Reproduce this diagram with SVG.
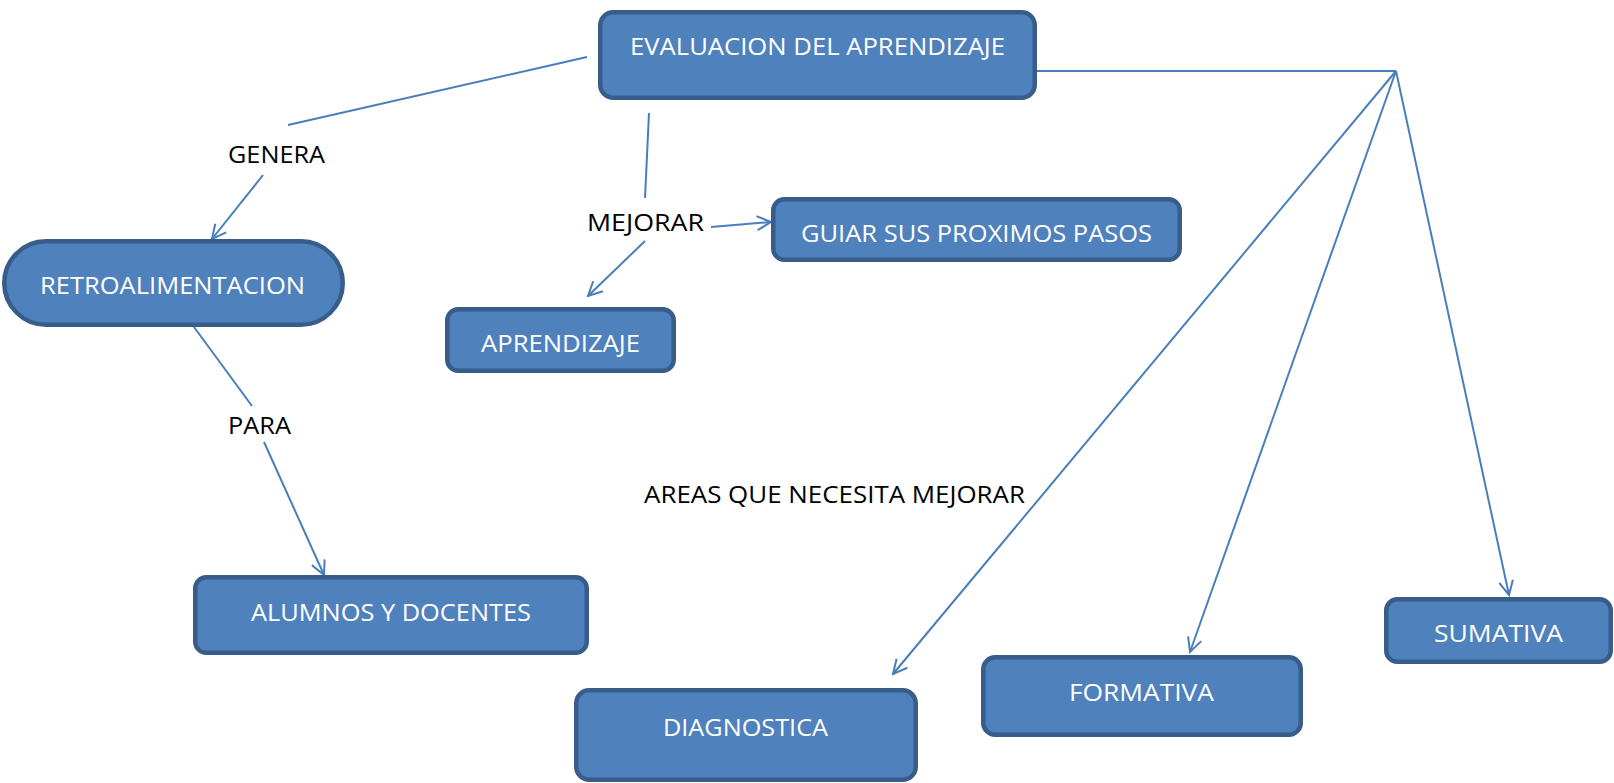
<svg xmlns="http://www.w3.org/2000/svg" width="1614" height="783" viewBox="0 0 1614 783">
<style>
.box{fill:#4F81BD;stroke:#385D8A;stroke-width:4.5}
.bt{fill:#FFFFFF;font-family:"Open Sans","Noto Sans",sans-serif;font-size:24px}
.lb{fill:#000000;font-family:"Open Sans","Noto Sans",sans-serif;font-size:23.5px}
.c{stroke:#4A7EBB;stroke-width:2;fill:none}
.a{marker-end:url(#ah)}
</style>
<defs>
<marker id="ah" viewBox="-16 -9 18 18" refX="0" refY="0" markerWidth="18" markerHeight="18" markerUnits="userSpaceOnUse" orient="auto">
<path d="M-14,-7 L0,0 L-14,7" fill="none" stroke="#4A7EBB" stroke-width="2"/>
</marker>
</defs>
<rect width="1614" height="783" fill="#FFFFFF"/>
<g id="connectors">
<line class="c" x1="587" y1="57" x2="288" y2="125"/>
<line class="c a" x1="263" y1="175" x2="212" y2="239"/>
<line class="c" x1="194" y1="327" x2="252" y2="406"/>
<line class="c a" x1="264" y1="442" x2="324" y2="575"/>
<line class="c" x1="649" y1="113" x2="645" y2="198"/>
<line class="c a" x1="711" y1="227" x2="771" y2="222"/>
<line class="c a" x1="645" y1="241" x2="588" y2="296"/>
<line class="c" x1="1037" y1="71" x2="1396" y2="71"/>
<line class="c a" x1="1396" y1="71" x2="893" y2="674"/>
<line class="c a" x1="1396" y1="71" x2="1190" y2="652"/>
<line class="c a" x1="1396" y1="71" x2="1509" y2="595"/>
</g>
<g id="labels">
<text class="lb" x="228" y="163" textLength="97" lengthAdjust="spacingAndGlyphs">GENERA</text>
<text class="lb" x="228" y="434" textLength="63" lengthAdjust="spacingAndGlyphs">PARA</text>
<text class="lb" x="587" y="231" textLength="117" lengthAdjust="spacingAndGlyphs">MEJORAR</text>
<text class="lb" x="644" y="503" textLength="381" lengthAdjust="spacingAndGlyphs">AREAS QUE NECESITA MEJORAR</text>
</g>
<g id="evaluacion">
<rect class="box" x="600.25" y="12.25" width="434.5" height="85.5" rx="13"/>
<text class="bt" x="630" y="55" textLength="375" lengthAdjust="spacingAndGlyphs">EVALUACION DEL APRENDIZAJE</text>
</g>
<g id="retroalimentacion">
<rect class="box" x="4.25" y="241.25" width="338.5" height="83.5" rx="41.75"/>
<text class="bt" x="40" y="294" textLength="265" lengthAdjust="spacingAndGlyphs">RETROALIMENTACION</text>
</g>
<g id="alumnos">
<rect class="box" x="195.25" y="577.25" width="391.5" height="75.5" rx="11"/>
<text class="bt" x="251" y="621" textLength="280" lengthAdjust="spacingAndGlyphs">ALUMNOS Y DOCENTES</text>
</g>
<g id="guiar">
<rect class="box" x="773.25" y="199.25" width="406.5" height="60.5" rx="11"/>
<text class="bt" x="801" y="242" textLength="351" lengthAdjust="spacingAndGlyphs">GUIAR SUS PROXIMOS PASOS</text>
</g>
<g id="aprendizaje">
<rect class="box" x="447.25" y="309.25" width="226.5" height="61.5" rx="11"/>
<text class="bt" x="481" y="352" textLength="159" lengthAdjust="spacingAndGlyphs">APRENDIZAJE</text>
</g>
<g id="diagnostica">
<rect class="box" x="576.25" y="690.25" width="339.5" height="89.5" rx="13"/>
<text class="bt" x="663" y="736" textLength="165" lengthAdjust="spacingAndGlyphs">DIAGNOSTICA</text>
</g>
<g id="formativa">
<rect class="box" x="983.25" y="657.25" width="317.5" height="77.5" rx="12"/>
<text class="bt" x="1069" y="701" textLength="145" lengthAdjust="spacingAndGlyphs">FORMATIVA</text>
</g>
<g id="sumativa">
<rect class="box" x="1386.25" y="599.25" width="224.5" height="62.5" rx="11"/>
<text class="bt" x="1434" y="642" textLength="129" lengthAdjust="spacingAndGlyphs">SUMATIVA</text>
</g>
</svg>
